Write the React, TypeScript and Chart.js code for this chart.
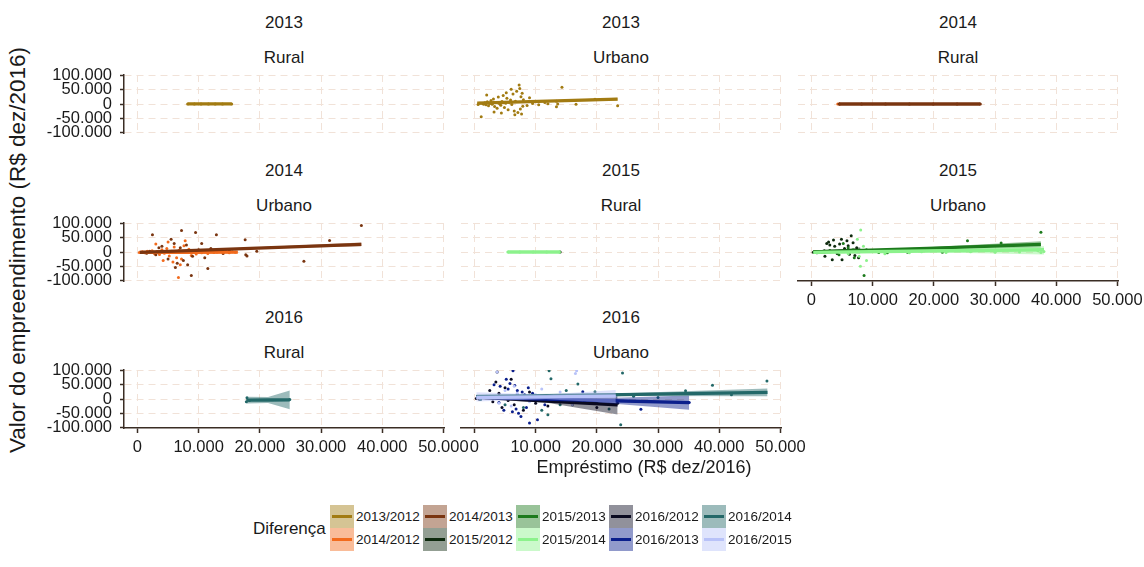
import React, { useEffect, useRef } from "react";
import { Chart, registerables } from "chart.js";

Chart.register(...registerables);

const FONT = "'Liberation Sans', Arial, Helvetica, sans-serif";
const TEXT = "#1a1a1a";
const AXIS = "#3a2d24";
const GRID = "#f1e2d8";
const BAND_ALPHA = 0.45;

// shared axis limits and ticks
const xMin = -2200;
const xMax = 50100;
const yMin = -102500;
const yMax = 102500;
const xTicks = [0, 10000, 20000, 30000, 40000, 50000];
const xTickLabels = ["0", "10.000", "20.000", "30.000", "40.000", "50.000"];
const yTicks = [-100000, -50000, 0, 50000, 100000];
const yTickLabels = ["-100.000", "-50.000", "0", "50.000", "100.000"];

// "Diferença" groups
const groupNames = [
  "2013/2012", "2014/2012", "2014/2013", "2015/2012", "2015/2013",
  "2015/2014", "2016/2012", "2016/2013", "2016/2014", "2016/2015",
];
const groupColors = [
  "#a27b12", "#f26b1d", "#7a3510", "#0e2a0e", "#1c7a1c",
  "#8cf28c", "#0a0a20", "#0b1f8c", "#236868", "#b8c2f8",
];

type Pt = [number, number];
// fit rows: x, fitted value, lower band, upper band
type Fit = [number[], number[], number[], number[]];

// ---- 2013 / Rural
const pts13Rur_1312: Pt[] = [[8200, 300], [9300, 300], [10400, 400], [11600, 300], [12700, 300], [13900, 400], [15400, 400]];
const fit13Rur_1312: Fit = [[8200, 11800, 15400], [300, 350, 400], [-1500, -700, -1600], [2100, 1400, 2400]];

// ---- 2013 / Urbano
const pts13Urb_1312: Pt[] = [
  [600, -2000], [900, 3000], [1100, -45000], [1300, 1500], [1500, -1000], [1700, 4000], [1900, -3000],
  [2100, 8000], [2300, -6000], [2500, 2000], [2700, 12000], [2900, -500], [3100, 18000], [3300, -9000],
  [3500, 5000], [3700, -15000], [3900, 25000], [4100, 1000], [4300, -4000], [4500, 9000], [4700, 30000],
  [4900, -12000], [5100, 3000], [5300, 20000], [5500, -20000], [5700, 6000], [5900, 14000], [6100, -2000],
  [6300, 35000], [6500, -25000], [6700, 10000], [6900, 45000], [7100, -30000], [7300, 67000], [7400, 55000],
  [7500, -18000], [7600, 26000], [7700, -35000], [7800, 38000], [7900, -8000], [8000, 15000], [2000, 32000],
  [3200, -28000], [4400, -32000], [5200, 40000], [6000, 52000], [6600, -38000], [9500, 2000], [10500, -3000],
  [11500, 5000], [13400, 10000], [13400, -10000], [13600, 0], [14300, 59000], [16600, -1000], [19700, 17000],
  [23400, -6000], [12000, 1000], [8600, -5000], [9000, 22000],
];
const fit13Urb_1312: Fit = [[450, 11900, 23400], [3000, 10000, 17000], [500, 8000, 11500], [5500, 12000, 22500]];

// ---- 2014 / Rural
const pts14Rur_1412: Pt[] = [[4300, 0], [4600, 100]];
const pts14Rur_1413: Pt[] = [[4500, 0], [8200, 0], [12100, 0], [16000, 0], [19900, 0], [23800, 0], [27600, 0]];
const fit14Rur_1413: Fit = [[4500, 16000, 27600], [0, 0, 0], [-1500, -900, -1500], [1500, 900, 1500]];

// ---- 2014 / Urbano
const pts14Urb_1412: Pt[] = [
  [300, -2000], [800, 1000], [1200, -3000], [1600, 2500], [2000, -1500], [2400, 4000], [2800, -6000],
  [3200, 1500], [3600, -9000], [4000, 8000], [4400, -4000], [4800, 12000], [5200, -14000], [5600, 3000],
  [6000, 18000], [6400, -20000], [6700, -90000], [6800, 6000], [7200, -25000], [7600, 22000], [8000, -2000],
  [8400, 10000], [8800, -12000], [9200, 2000], [9600, -7000], [10000, 5000], [10500, -3000], [11000, 1000],
  [11500, -5000], [12000, 3000], [12500, -2000], [13000, 0], [13500, 2000], [14000, -1000], [14500, 1500],
  [15000, -2500], [15500, 500], [16000, -1000], [3000, 28000], [5000, 35000], [7000, -45000], [5800, -35000],
  [4200, -30000], [7800, 40000],
];
const fit14Urb_1412: Fit = [[300, 8300, 16400], [-1500, -1000, -500], [-4500, -2500, -4500], [1500, 500, 3500]];
const pts14Urb_1413: Pt[] = [
  [2450, 61000], [7200, 76000], [9500, 69000], [8800, -83000], [11500, -58000], [12900, 61000], [17600, 43000],
  [17700, -10000], [17900, -14000], [19500, 3000], [27200, -33000], [31400, 41000], [36600, 94000], [4000, 20000],
  [5000, -25000], [6000, 30000], [6500, -40000], [7000, 15000], [7500, -30000], [8000, 25000], [9000, -15000],
  [10000, 8000], [11000, -20000], [12000, 12000], [3000, -10000], [3500, 15000], [5500, 45000], [6200, -55000],
  [8200, -45000], [10500, 30000], [14000, -5000], [15000, 5000], [1500, -4000], [2000, 3000],
];
const fit14Urb_1413: Fit = [[400, 18500, 36600], [-1000, 13000, 27000], [-4000, 10500, 20000], [2000, 15500, 34000]];

// ---- 2015 / Rural
const pts15Rur_1512: Pt[] = [[14000, 0]];
const pts15Rur_1514: Pt[] = [[5450, 0], [7400, 0], [9600, 0], [11800, 0], [13900, 0]];
const fit15Rur_1514: Fit = [[5450, 9700, 14000], [0, 0, 0], [-1500, -900, -1500], [1500, 900, 1500]];

// ---- 2015 / Urbano
const pts15Urb_1512: Pt[] = [
  [300, -1000], [600, 2000], [900, -3000], [1200, 1000], [1500, 500], [1800, -2000], [2100, 4000],
  [2500, 30000], [2800, 35000], [3000, 25000], [3400, -27000], [3800, 20000], [4200, -5000], [4600, 28000],
  [5000, -27000], [5400, 12000], [5800, 40000], [6200, -8000], [6500, 57000], [6800, 33000], [7100, -12000],
  [7400, 15000], [7700, -20000], [8000, 5000], [2200, -15000], [3600, 42000], [4900, 45000], [6000, 22000],
];
const fit15Urb_1512: Fit = [[300, 4200, 8000], [0, 3000, 6000], [-3500, -1000, -5000], [3500, 7000, 17000]];
const pts15Urb_1513: Pt[] = [
  [8600, -83000], [12400, -3000], [37500, 70000], [25500, 40000], [31000, 32000], [1500, 0], [3000, 5000],
  [4500, -10000], [6000, 15000], [7000, -20000], [9000, 8000], [11000, -2000], [15700, -1000], [21400, -1000],
  [5200, 30000],
];
const fit15Urb_1513: Fit = [[300, 19000, 37500], [0, 13000, 27000], [-3000, 9000, 16000], [3000, 17000, 38000]];
const pts15Urb_1514: Pt[] = [
  [8050, 78000], [7500, 45000], [8000, -50000], [8500, 20000], [9000, -30000], [1000, 0], [2000, -2000],
  [4000, 3000], [6000, -6000], [6800, 10000], [7800, -15000], [10000, 2000], [12000, -6000], [14000, 2000],
  [16000, -3000], [18000, 1000], [22000, -2000], [26000, 1000], [30000, -1000], [34000, 0], [37500, -2000],
  [38000, 2000], [37000, 4000],
];
const fit15Urb_1514: Fit = [[300, 19000, 38000], [-1000, 3500, 8000], [-5000, -1000, -9000], [3000, 8000, 20000]];

// ---- 2016 / Rural
const pts16Rur_1614: Pt[] = [[17800, -10000], [17900, 4000], [18300, -5000], [24900, -2000]];
const fit16Rur_1614: Fit = [[17800, 21350, 24900], [-4000, -3500, -3000], [-16000, -14000, -36000], [8000, 7000, 30000]];

// ---- 2016 / Urbano
const pts16Urb_1612: Pt[] = [
  [300, 2000], [800, -1000], [1500, 5000], [2500, 30000], [3000, -10000], [3500, 60000], [3700, 95000],
  [4000, 20000], [4500, -30000], [5000, 40000], [5500, -5000], [6000, 70000], [6500, -20000], [7000, 10000],
  [8000, -40000], [9000, 25000], [10000, -15000], [11000, 5000], [12000, -25000], [14000, -10000],
  [16000, -20000], [18000, -8000], [20000, -30000], [23400, -15000],
];
const fit16Urb_1612: Fit = [[300, 11850, 23400], [7000, -7000, -21000], [1000, -13000, -55000], [13000, -1000, 9000]];
const pts16Urb_1613: Pt[] = [
  [6300, 100000], [9000, -85000], [10300, -73000], [7600, -62000], [17700, 26000], [27200, -36000],
  [35100, -12000], [3200, 50000], [4200, 45000], [4800, -40000], [5500, 35000], [5800, 55000], [6200, -45000],
  [6600, 48000], [7000, 30000], [7200, -50000], [7800, 25000], [8200, 15000], [8500, -30000], [9500, 20000],
  [10500, 10000], [11500, -20000], [13000, -5000], [15000, 8000], [2000, 5000], [1000, 0], [4000, -12000],
  [6800, -35000], [5200, 70000], [8800, 40000],
];
const fit16Urb_1613: Fit = [[300, 17700, 35100], [6000, -3500, -13000], [2000, -8000, -38000], [10000, 1000, 12000]];
const pts16Urb_1614: Pt[] = [
  [24200, 92000], [23900, -91000], [34500, 29000], [38900, 49000], [47800, 64000], [12000, -56000],
  [16900, 53000], [12500, 72000], [12200, 100000], [19700, 26000], [5000, -20000], [7000, 15000],
  [8000, -30000], [10000, 10000], [11000, -40000], [14000, -20000], [15000, 30000], [20000, -15000],
  [22000, -35000], [3000, 3000], [1000, -2000], [26000, 10000], [30000, 5000], [42000, 15000],
];
const fit16Urb_1614: Fit = [[300, 24100, 47900], [8000, 15750, 23500], [0, 11000, 10000], [16000, 20500, 37000]];
const pts16Urb_1615: Pt[] = [
  [16700, 100000], [16500, 90000], [3700, 95000], [2000, 10000], [4000, -15000], [5000, 30000],
  [6000, -25000], [7000, 20000], [8000, 5000], [9000, -10000], [10000, 15000], [12000, -5000],
  [14000, 25000], [16000, -20000], [18000, 8000], [20000, 12000], [23100, 10000], [22000, -8000],
  [11000, 35000], [6500, 45000],
];
const fit16Urb_1615: Fit = [[300, 11700, 23100], [5000, 7500, 10000], [-9000, -1000, -14000], [24000, 16000, 32000]];

interface Series { g: number; pts: Pt[]; fit?: Fit }
interface Facet { year: string; area: string; col: number; row: number; xAxis: boolean; series: Series[] }

const facets: Facet[] = [
  { year: "2013", area: "Rural", col: 0, row: 0, xAxis: false, series: [{ g: 0, pts: pts13Rur_1312, fit: fit13Rur_1312 }] },
  { year: "2013", area: "Urbano", col: 1, row: 0, xAxis: false, series: [{ g: 0, pts: pts13Urb_1312, fit: fit13Urb_1312 }] },
  {
    year: "2014", area: "Rural", col: 2, row: 0, xAxis: false,
    series: [{ g: 1, pts: pts14Rur_1412 }, { g: 2, pts: pts14Rur_1413, fit: fit14Rur_1413 }],
  },
  {
    year: "2014", area: "Urbano", col: 0, row: 1, xAxis: false,
    series: [{ g: 1, pts: pts14Urb_1412, fit: fit14Urb_1412 }, { g: 2, pts: pts14Urb_1413, fit: fit14Urb_1413 }],
  },
  {
    year: "2015", area: "Rural", col: 1, row: 1, xAxis: false,
    series: [{ g: 3, pts: pts15Rur_1512 }, { g: 5, pts: pts15Rur_1514, fit: fit15Rur_1514 }],
  },
  {
    year: "2015", area: "Urbano", col: 2, row: 1, xAxis: true,
    series: [
      { g: 3, pts: pts15Urb_1512, fit: fit15Urb_1512 },
      { g: 4, pts: pts15Urb_1513, fit: fit15Urb_1513 },
      { g: 5, pts: pts15Urb_1514, fit: fit15Urb_1514 },
    ],
  },
  { year: "2016", area: "Rural", col: 0, row: 2, xAxis: true, series: [{ g: 8, pts: pts16Rur_1614, fit: fit16Rur_1614 }] },
  {
    year: "2016", area: "Urbano", col: 1, row: 2, xAxis: true,
    series: [
      { g: 6, pts: pts16Urb_1612, fit: fit16Urb_1612 },
      { g: 7, pts: pts16Urb_1613, fit: fit16Urb_1613 },
      { g: 8, pts: pts16Urb_1614, fit: fit16Urb_1614 },
      { g: 9, pts: pts16Urb_1615, fit: fit16Urb_1615 },
    ],
  },
];

// facet grid geometry (page pixels)
const colLeft = [124, 461, 798];
const rowTop = [75, 223, 370];
const PW = 320;
const PH = 58;
const Y_AXIS_W = 90;
const X_AXIS_H = 30;
const PAD = { left: 4, top: 10, right: 32, bottom: 4 };
const TICK_SIZE = 16.5;

function rgba(hex: string, a: number) {
  const n = parseInt(hex.slice(1), 16);
  return `rgba(${(n >> 16) & 255},${(n >> 8) & 255},${n & 255},${a})`;
}

function onWhite(hex: string, a: number) {
  const n = parseInt(hex.slice(1), 16);
  const mix = (c: number) => Math.round(255 - a * (255 - c));
  return `rgb(${mix((n >> 16) & 255)},${mix((n >> 8) & 255)},${mix(n & 255)})`;
}

function zeroPadding(s: any) {
  s.paddingLeft = 0;
  s.paddingRight = 0;
  s.paddingTop = 0;
  s.paddingBottom = 0;
}

function FacetChart({ f }: { f: Facet }) {
  const ref = useRef<HTMLCanvasElement>(null);
  const hasY = f.col === 0;
  const hasX = f.xAxis;
  const leftW = hasY ? Y_AXIS_W : 0;
  const bottomH = hasX ? X_AXIS_H : 0;
  const cw = PAD.left + leftW + PW + PAD.right;
  const ch = PAD.top + PH + bottomH + PAD.bottom;
  const cl = colLeft[f.col] - leftW - PAD.left;
  const ct = rowTop[f.row] - PAD.top;

  useEffect(() => {
    if (!ref.current) return;
    const datasets: any[] = [];
    // points underneath
    f.series.forEach((s) => {
      datasets.push({
        type: "scatter",
        data: s.pts.map(([x, y]) => ({ x, y })),
        pointRadius: 1.5,
        pointBackgroundColor: groupColors[s.g],
        pointBorderWidth: 0,
        pointBorderColor: "rgba(0,0,0,0)",
      });
    });
    // per group: confidence band, then fitted line
    f.series.forEach((s) => {
      if (!s.fit) return;
      const [fx, fy, lo, hi] = s.fit;
      const c = groupColors[s.g];
      const band = rgba(c, BAND_ALPHA);
      const loIdx = datasets.length;
      datasets.push({
        type: "line",
        data: fx.map((x, i) => ({ x, y: lo[i] })),
        showLine: false,
        pointRadius: 0,
        borderWidth: 0,
        fill: false,
      });
      datasets.push({
        type: "line",
        data: fx.map((x, i) => ({ x, y: hi[i] })),
        showLine: false,
        pointRadius: 0,
        borderWidth: 0,
        backgroundColor: band,
        fill: { target: loIdx, above: band, below: band },
      });
      datasets.push({
        type: "line",
        data: fx.map((x, i) => ({ x, y: fy[i] })),
        borderColor: c,
        borderWidth: 3.3,
        pointRadius: 0,
        fill: false,
      });
    });
    const n = datasets.length;
    datasets.forEach((d, i) => {
      d.order = n - i;
    });

    const chart = new Chart(ref.current, {
      type: "line",
      data: { datasets },
      options: {
        responsive: false,
        animation: false,
        devicePixelRatio: 1,
        events: [],
        layout: { padding: PAD },
        plugins: { legend: { display: false }, tooltip: { enabled: false }, title: { display: false } },
        scales: {
          x: {
            type: "linear",
            min: xMin,
            max: xMax,
            bounds: "data",
            afterBuildTicks: (s: any) => {
              s.ticks = xTicks.map((v) => ({ value: v }));
            },
            afterFit: (s: any) => {
              s.height = bottomH;
              zeroPadding(s);
            },
            ticks: {
              display: hasX,
              autoSkip: false,
              maxRotation: 0,
              padding: 5,
              color: TEXT,
              font: { family: FONT, size: TICK_SIZE },
              callback: (_v: any, i: number) => xTickLabels[i],
            },
            grid: { color: GRID, lineWidth: 1, drawTicks: hasX, tickLength: 5, tickColor: AXIS, tickWidth: 1.5 },
            border: { display: hasX, color: AXIS, width: 1.5, dash: [7, 5] },
          },
          y: {
            type: "linear",
            min: yMin,
            max: yMax,
            bounds: "data",
            afterBuildTicks: (s: any) => {
              s.ticks = yTicks.map((v) => ({ value: v }));
            },
            afterFit: (s: any) => {
              s.width = leftW;
              zeroPadding(s);
            },
            ticks: {
              display: hasY,
              autoSkip: false,
              padding: 8,
              color: TEXT,
              font: { family: FONT, size: TICK_SIZE },
              callback: (_v: any, i: number) => yTickLabels[i],
            },
            grid: { color: GRID, lineWidth: 1, drawTicks: hasY, tickLength: 4, tickColor: AXIS, tickWidth: 1.5 },
            border: { display: hasY, color: AXIS, width: 1.5, dash: [7, 5] },
          },
        },
      } as any,
    });
    return () => chart.destroy();
  }, []);

  const cx = colLeft[f.col] + PW / 2;
  const stripStyle: React.CSSProperties = {
    position: "absolute",
    left: cx,
    transform: "translate(-50%, -50%)",
    fontFamily: FONT,
    fontSize: 17,
    color: TEXT,
    whiteSpace: "nowrap",
    lineHeight: 1,
  };
  return (
    <>
      <div style={{ ...stripStyle, top: rowTop[f.row] - 53.5 }}>{f.year}</div>
      <div style={{ ...stripStyle, top: rowTop[f.row] - 18.5 }}>{f.area}</div>
      <canvas
        ref={ref}
        width={cw}
        height={ch}
        style={{ position: "absolute", left: cl, top: ct, width: cw, height: ch }}
      />
    </>
  );
}

function Legend() {
  const keyLeft = [330, 423, 516, 609, 702];
  const keyTop = [505, 528];
  return (
    <>
      <div
        style={{
          position: "absolute",
          left: 253,
          top: 528,
          transform: "translateY(-50%)",
          fontFamily: FONT,
          fontSize: 17,
          color: TEXT,
          lineHeight: 1,
        }}
      >
        Diferença
      </div>
      {groupNames.map((name, i) => {
        const col = Math.floor(i / 2);
        const row = i % 2;
        const c = groupColors[i];
        return (
          <div key={name} style={{ position: "absolute", left: keyLeft[col], top: keyTop[row], height: 23 }}>
            <div style={{ position: "absolute", left: 0, top: 0, width: 24, height: 23, background: onWhite(c, BAND_ALPHA) }}>
              <div style={{ position: "absolute", left: 2, top: 10, width: 20, height: 3, background: c }} />
            </div>
            <div
              style={{
                position: "absolute",
                left: 26,
                top: 11.5,
                transform: "translateY(-50%)",
                fontFamily: FONT,
                fontSize: 13.5,
                color: TEXT,
                whiteSpace: "nowrap",
                lineHeight: 1,
              }}
            >
              {name}
            </div>
          </div>
        );
      })}
    </>
  );
}

export default function App() {
  return (
    <div
      style={{
        position: "absolute",
        left: 0,
        top: 0,
        width: 1144,
        height: 567,
        overflow: "hidden",
        background: "#ffffff",
      }}
    >
      {facets.map((f) => (
        <FacetChart key={f.year + f.area} f={f} />
      ))}
      <div
        style={{
          position: "absolute",
          left: 18,
          top: 250,
          transform: "translate(-50%, -50%) rotate(-90deg)",
          fontFamily: FONT,
          fontSize: 22.5,
          color: TEXT,
          whiteSpace: "nowrap",
          lineHeight: 1,
        }}
      >
        Valor do empreendimento (R$ dez/2016)
      </div>
      <div
        style={{
          position: "absolute",
          left: 644,
          top: 467,
          transform: "translate(-50%, -50%)",
          fontFamily: FONT,
          fontSize: 18,
          color: TEXT,
          whiteSpace: "nowrap",
          lineHeight: 1,
        }}
      >
        Empréstimo (R$ dez/2016)
      </div>
      <Legend />
    </div>
  );
}
